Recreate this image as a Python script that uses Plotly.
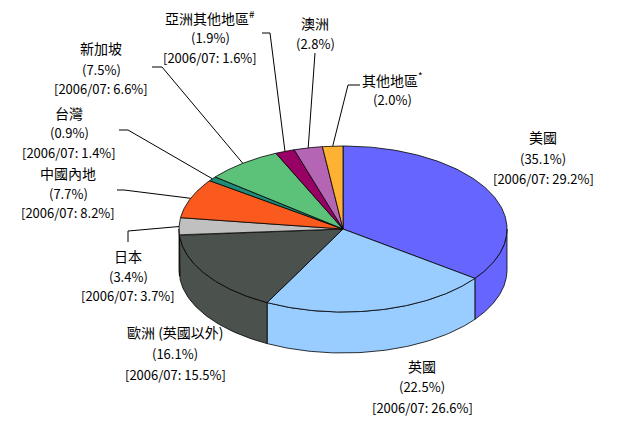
import numpy as np
import plotly.graph_objects as go

# ---- data ----
categories = ["美國", "英國", "歐洲 (英國以外)", "日本", "中國內地", "台灣",
              "新加坡", "亞洲其他地區", "澳洲", "其他地區"]
share_2007_08 = [35.1, 22.5, 16.1, 3.4, 7.7, 0.9, 7.5, 1.9, 2.8, 2.0]
share_2006_07 = [29.2, 26.6, 15.5, 3.7, 8.2, 1.4, 6.6, 1.6, None, None]
note_marks = ["", "", "", "", "", "", "", "#", "", "*"]
colors = ["#6666FF", "#99CCFF", "#4B524E", "#C0C0C0", "#FA5A1E", "#1E8C78",
          "#5CC27A", "#990066", "#B466B4", "#FFB133"]

# ---- geometry (layout) ----
W, H = 621, 424
OFF = 8  # page body margin
cx, cy, rx, ry, depth = 343, 229, 164, 83, 41

total = sum(share_2007_08)
bounds = np.concatenate([[0], np.cumsum(share_2007_08) / total * 360.0])


def ell(theta_deg, dy=0.0):
    t = np.radians(theta_deg)
    return cx + rx * np.sin(t), cy - ry * np.cos(t) + dy


fig = go.Figure()

# side walls (front half: 90..270 degrees clockwise from top)
for i, c in enumerate(colors):
    a, b = max(bounds[i], 90.0), min(bounds[i + 1], 270.0)
    if b <= a:
        continue
    th = np.linspace(a, b, 80)
    xt, yt = ell(th)
    xb, yb = ell(th[::-1], depth)
    fig.add_trace(go.Scatter(
        x=np.concatenate([xt, xb, xt[:1]]), y=np.concatenate([yt, yb, yt[:1]]),
        fill="toself", fillcolor=c, mode="lines",
        line=dict(color="#000000", width=0.8), hoverinfo="skip", showlegend=False))

# top faces
for i, c in enumerate(colors):
    th = np.linspace(bounds[i], bounds[i + 1], 120)
    xt, yt = ell(th)
    fig.add_trace(go.Scatter(
        x=np.concatenate([[cx], xt, [cx]]), y=np.concatenate([[cy], yt, [cy]]),
        fill="toself", fillcolor=c, mode="lines",
        line=dict(color="#000000", width=0.8), hoverinfo="skip",
        name=categories[i], showlegend=False))

# label placement (layout): centre x and line y positions
label_pos = {
    0: (543, [137, 158, 178]),
    1: (422, [366, 386, 407]),
    2: (175, [332, 353, 374]),
    3: (128, [256, 276, 295]),
    4: (68, [173, 193, 212]),
    5: (69, [113, 132, 152]),
    6: (101, [48, 69, 88]),
    7: (210, [17, 37, 57]),
    8: (315, [23, 43]),
    9: (392, [79, 99]),
}
# leader line elbow points (layout); final point is the slice's edge at mid-angle
leader_pts = {
    3: [(128, 242), (128, 231)],
    4: [(117, 190), (124, 190)],
    5: [(119, 130), (128, 130)],
    6: [(152, 67), (162, 67)],
    7: [(262, 33), (270, 33)],
    8: [(315, 53)],
    9: [(360, 85), (348, 85)],
}

font_fam = "Noto Sans CJK TC, sans-serif"
for i, name in enumerate(categories):
    x0, ys = label_pos[i]
    name_txt = name + (f"<sup>{note_marks[i]}</sup>" if note_marks[i] else "")
    lines = [(name_txt, 14), (f"({share_2007_08[i]:.1f}%)", 13)]
    if share_2006_07[i] is not None:
        lines.append((f"[2006/07: {share_2006_07[i]:.1f}%]", 13))
    for (txt, fs), yy in zip(lines, ys):
        fig.add_annotation(x=x0, y=yy, text=txt, showarrow=False,
                           xanchor="center", yanchor="middle",
                           font=dict(family=font_fam, size=fs, color="#000000"))

for i, pts in leader_pts.items():
    mid = (bounds[i] + bounds[i + 1]) / 2
    ax, ay = ell(mid)
    xs = [p[0] for p in pts] + [ax]
    ys = [p[1] for p in pts] + [ay]
    fig.add_trace(go.Scatter(x=xs, y=ys, mode="lines",
                             line=dict(color="#000000", width=1),
                             hoverinfo="skip", showlegend=False))

fig.update_layout(
    width=W - OFF, height=H - OFF, margin=dict(l=0, r=0, t=0, b=0),
    paper_bgcolor="white", plot_bgcolor="white",
    xaxis=dict(range=[OFF, W], visible=False, fixedrange=True),
    yaxis=dict(range=[H, OFF], visible=False, fixedrange=True),
)

fig.write_html("out.html")
